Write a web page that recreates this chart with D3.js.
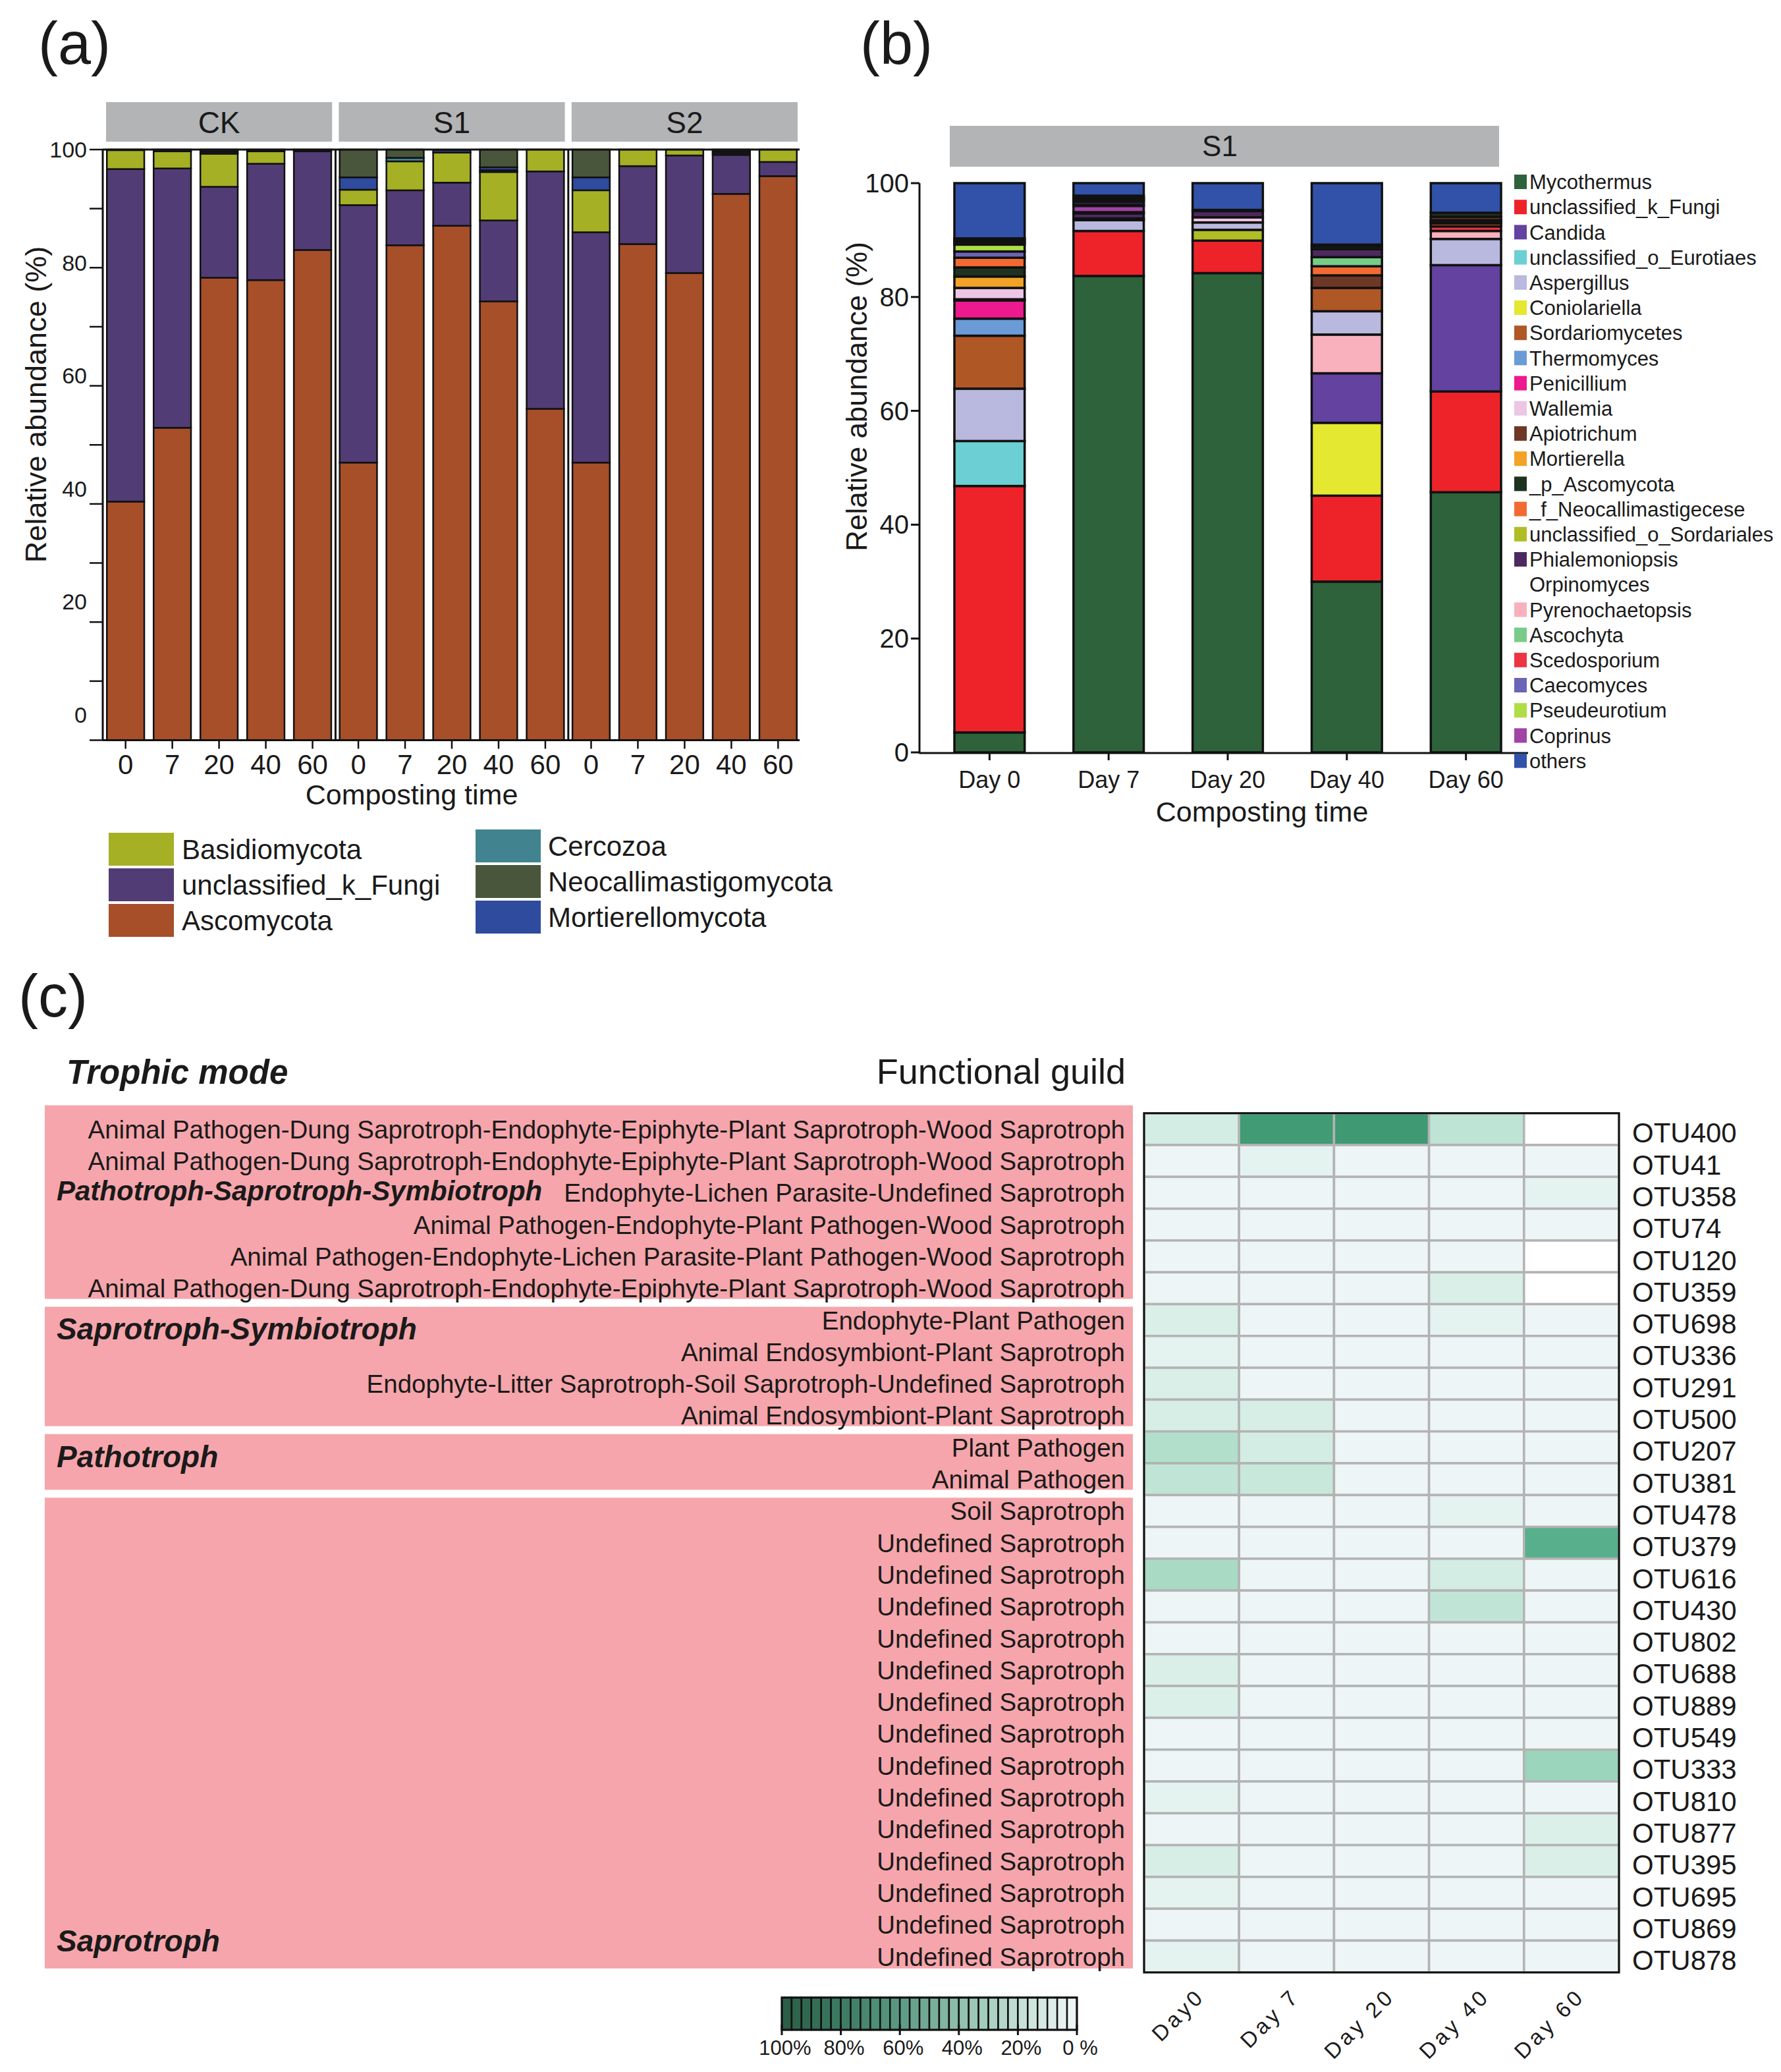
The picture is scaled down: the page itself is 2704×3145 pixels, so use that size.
<!DOCTYPE html>
<html>
<head>
<meta charset="utf-8">
<script src="https://cdn.jsdelivr.net/npm/d3@7"></script>
<style>
  body { margin: 0; background: #fff; }
  text { font-family: "Liberation Sans", Arial, Helvetica, sans-serif; fill: #1a1a1a; }
</style>
</head>
<body>
<svg id="fig" width="2704" height="3145"></svg>
<script>
'use strict'

// ---------- panel (a): phylum composition ----------
const groups = ['CK', 'S1', 'S2']
const days = ['0', '7', '20', '40', '60']
const phyla = ['Ascomycota', 'unclassified_k_Fungi', 'Basidiomycota', 'Cercozoa', 'Mortierellomycota', 'Neocallimastigomycota']
const phylaColors = ['#a64f29', '#523c75', '#a5b025', '#41848f', '#2f4b9e', '#4a563c']
// one value per sample: CK 0..60, S1 0..60, S2 0..60
const ascomycota = [40.4, 52.9, 78.3, 77.9, 83.0, 47.0, 83.8, 87.1, 74.3, 56.1, 47.0, 84.0, 79.1, 92.5, 95.5]
const unclassifiedFungi = [56.3, 43.9, 15.4, 19.7, 16.7, 43.6, 9.3, 7.3, 13.7, 40.2, 39.0, 13.2, 19.9, 6.6, 2.4]
const basidiomycota = [3.2, 2.9, 5.6, 2.1, 0.1, 2.6, 4.9, 5.1, 8.2, 3.7, 7.1, 2.8, 1.0, 0.3, 2.1]
const cercozoa = [0, 0, 0.1, 0, 0, 0, 0.6, 0, 0.3, 0, 0, 0, 0, 0, 0]
const mortierellomycota = [0, 0, 0.3, 0.1, 0, 2.1, 0, 0.4, 0.5, 0, 2.2, 0, 0, 0.3, 0]
const neocallimastigomycota = [0.1, 0.3, 0.3, 0.2, 0.2, 4.7, 1.4, 0, 3.0, 0, 4.7, 0, 0, 0.3, 0]
const legendAcol1 = ['Basidiomycota', 'unclassified_k_Fungi', 'Ascomycota']
const legendAcol2 = ['Cercozoa', 'Neocallimastigomycota', 'Mortierellomycota']

// ---------- panel (b): genus composition in S1 ----------
const dayLabels = ['Day 0', 'Day 7', 'Day 20', 'Day 40', 'Day 60']
const genera = ['Mycothermus', 'unclassified_k_Fungi', 'Candida', 'unclassified_o_Eurotiaes', 'Aspergillus',
  'Coniolariella', 'Sordariomycetes', 'Thermomyces', 'Penicillium', 'Wallemia', 'Apiotrichum', 'Mortierella',
  '_p_Ascomycota', '_f_Neocallimastigecese', 'unclassified_o_Sordariales', 'Phialemoniopsis', 'Orpinomyces',
  'Pyrenochaetopsis', 'Ascochyta', 'Scedosporium', 'Caecomyces', 'Pseudeurotium', 'Coprinus', 'others']
const generaColors = ['#2d623a', '#ee232a', '#6342a0', '#6ccfd3', '#b9b8de', '#e5e830', '#b05726', '#6a9bd6',
  '#ec1a8e', '#ecc6e4', '#6e3826', '#f3a227', '#1f3222', '#f26a32', '#b0bd24', '#4c2a5e', '#ffffff',
  '#f8b1bd', '#78cc88', '#ee3342', '#6a65b5', '#afdd47', '#a044a5', '#3152a8']
// bottom-up stacks, [genus, %]
const day0 = [['Mycothermus', 3.5], ['unclassified_k_Fungi', 43.3], ['unclassified_o_Eurotiaes', 7.9], ['Aspergillus', 9.2],
  ['Sordariomycetes', 9.3], ['Thermomyces', 3.0], ['Penicillium', 3.2], ['Coprinus', 0.2], ['Wallemia', 2.0],
  ['Mortierella', 2.0], ['_p_Ascomycota', 1.6], ['_f_Neocallimastigecese', 1.7], ['Caecomyces', 1.1],
  ['Pseudeurotium', 1.2], ['Ascochyta', 0.3], ['Phialemoniopsis', 0.3], ['unclassified_o_Sordariales', 0.3],
  ['Scedosporium', 0.2], ['others', 9.7]]
const day7 = [['Mycothermus', 83.7], ['unclassified_k_Fungi', 7.9], ['Aspergillus', 1.9], ['_p_Ascomycota', 0.3],
  ['Phialemoniopsis', 0.9], ['Thermomyces', 0.2], ['Coprinus', 1.1], ['Wallemia', 0.2], ['Candida', 0.5],
  ['Sordariomycetes', 0.2], ['Coniolariella', 0.2], ['Mortierella', 0.2], ['unclassified_o_Sordariales', 0.2],
  ['Apiotrichum', 0.3], ['others', 2.2]]
const day20 = [['Mycothermus', 84.2], ['unclassified_k_Fungi', 5.7], ['unclassified_o_Sordariales', 1.9],
  ['Aspergillus', 1.3], ['Wallemia', 0.9], ['Phialemoniopsis', 1.1], ['_p_Ascomycota', 0.2], ['others', 4.7]]
const day40 = [['Mycothermus', 30.0], ['unclassified_k_Fungi', 15.1], ['Coniolariella', 12.8], ['Candida', 8.7],
  ['Pyrenochaetopsis', 6.8], ['Aspergillus', 4.1], ['Sordariomycetes', 4.1], ['Apiotrichum', 2.2],
  ['_f_Neocallimastigecese', 1.6], ['Ascochyta', 1.6], ['Phialemoniopsis', 1.4], ['_p_Ascomycota', 0.5],
  ['Caecomyces', 0.3], ['others', 10.8]]
const day60 = [['Mycothermus', 45.7], ['unclassified_k_Fungi', 17.7], ['Candida', 22.2], ['Aspergillus', 4.6],
  ['Pyrenochaetopsis', 1.4], ['Scedosporium', 0.8], ['_f_Neocallimastigecese', 0.5], ['Coprinus', 0.3],
  ['Phialemoniopsis', 0.3], ['Apiotrichum', 0.6], ['_p_Ascomycota', 0.7], ['others', 5.2]]
const dayStacks = [day0, day7, day20, day40, day60]

// ---------- panel (c): FUNGuild heatmap ----------
const otus = ['OTU400', 'OTU41', 'OTU358', 'OTU74', 'OTU120', 'OTU359', 'OTU698', 'OTU336', 'OTU291', 'OTU500',
  'OTU207', 'OTU381', 'OTU478', 'OTU379', 'OTU616', 'OTU430', 'OTU802', 'OTU688', 'OTU889', 'OTU549',
  'OTU333', 'OTU810', 'OTU877', 'OTU395', 'OTU695', 'OTU869', 'OTU878']
const guildA = 'Animal Pathogen-Dung Saprotroph-Endophyte-Epiphyte-Plant Saprotroph-Wood Saprotroph'
const guildU = 'Undefined Saprotroph'
const guilds = [guildA, guildA, 'Endophyte-Lichen Parasite-Undefined Saprotroph',
  'Animal Pathogen-Endophyte-Plant Pathogen-Wood Saprotroph',
  'Animal Pathogen-Endophyte-Lichen Parasite-Plant Pathogen-Wood Saprotroph', guildA,
  'Endophyte-Plant Pathogen', 'Animal Endosymbiont-Plant Saprotroph',
  'Endophyte-Litter Saprotroph-Soil Saprotroph-Undefined Saprotroph', 'Animal Endosymbiont-Plant Saprotroph',
  'Plant Pathogen', 'Animal Pathogen', 'Soil Saprotroph',
  guildU, guildU, guildU, guildU, guildU, guildU, guildU, guildU, guildU, guildU, guildU, guildU, guildU, guildU]
const trophicModes = ['Pathotroph-Saprotroph-Symbiotroph', 'Saprotroph-Symbiotroph', 'Pathotroph', 'Saprotroph']
const trophicRowCounts = [6, 4, 2, 15]
const heatDays = ['Day0', 'Day 7', 'Day 20', 'Day 40', 'Day 60']
// relative abundance (%) per OTU, null = no value (white)
const heatDay0 = [10, 1, 1, 1, 1, 1, 8, 4, 8, 9, 21, 16, 1, 1, 24, 1, 1, 8, 7, 1, 1, 4, 1, 9, 4, 1, 4]
const heatDay7 = [75, 4, 1, 1, 1, 1, 1, 1, 1, 9, 10, 14, 1, 1, 1, 1, 1, 1, 1, 1, 1, 1, 1, 1, 1, 1, 1]
const heatDay20 = [77, 1, 1, 1, 1, 1, 1, 1, 1, 1, 1, 1, 1, 1, 1, 1, 1, 1, 1, 1, 1, 1, 1, 1, 1, 1, 1]
const heatDay40 = [17, 1, 1, 1, 1, 8, 4, 1, 1, 1, 1, 1, 4, 1, 10, 16, 1, 1, 1, 1, 1, 1, 1, 1, 1, 1, 1]
const heatDay60 = [null, 1, 4, 1, null, null, 1, 1, 1, 1, 1, 1, 1, 55, 1, 1, 1, 1, 1, 1, 28, 1, 7, 8, 1, 1, 1]
const heatValues = [heatDay0, heatDay7, heatDay20, heatDay40, heatDay60]
const colorbarTicks = [100, 80, 60, 40, 20, 0]
const colorbarTickLabels = ['100%', '80%', '60%', '40%', '20%', '0 %']

const svg = d3.select('#fig')
svg.append('rect').attr('width', 2704).attr('height', 3145).attr('fill', '#fff')

function panelLabel(txt, x, y) {
  svg.append('text').attr('x', x).attr('y', y).attr('font-size', 90).text(txt)
}

// ================= (a) =================
panelLabel('(a)', 58, 97)

const yA = d3.scaleLinear().domain([0, 100]).range([1123.5, 227])
// tick labels in the original drift upward a little
const yALab = d3.scaleLinear().domain([0, 100]).range([1085, 227])
const gx = d3.scaleBand().domain(groups).range([158, 1214]).paddingInner(0.012)
const bx = d3.scaleBand().domain(days).range([0, gx.bandwidth()]).paddingInner(0.2).paddingOuter(0.06)
const colorA = d3.scaleOrdinal().domain(phyla).range(phylaColors)

const samples = []
groups.forEach((g, gi) => {
  days.forEach((d, di) => {
    const i = gi * 5 + di
    samples.push({
      group: g, day: d,
      Ascomycota: ascomycota[i],
      unclassified_k_Fungi: unclassifiedFungi[i],
      Basidiomycota: basidiomycota[i],
      Cercozoa: cercozoa[i],
      Mortierellomycota: mortierellomycota[i],
      Neocallimastigomycota: neocallimastigomycota[i]
    })
  })
})
const stackA = d3.stack().keys(phyla)(samples)

const ga = svg.append('g')
groups.forEach(g => {
  ga.append('rect').attr('x', gx(g) + 3).attr('y', 155).attr('width', gx.bandwidth() - 6).attr('height', 60)
    .attr('fill', '#b3b4b6')
  ga.append('text').attr('x', gx(g) + gx.bandwidth() / 2).attr('y', 202).attr('text-anchor', 'middle')
    .attr('font-size', 46).text(g)
})

stackA.forEach(layer => {
  ga.append('g').selectAll('rect')
    .data(layer.filter(d => d[1] - d[0] > 0))
    .join('rect')
    .attr('x', d => gx(d.data.group) + bx(d.data.day))
    .attr('y', d => yA(d[1]))
    .attr('width', bx.bandwidth())
    .attr('height', d => yA(d[0]) - yA(d[1]))
    .attr('fill', colorA(layer.key))
    .attr('stroke', '#111').attr('stroke-width', 2.5)
})

// axes of (a)
ga.append('line').attr('x1', 156).attr('x2', 156).attr('y1', yA(100)).attr('y2', yA(0)).attr('stroke', '#111').attr('stroke-width', 3)
ga.append('line').attr('x1', 156).attr('x2', 1214).attr('y1', yA(100)).attr('y2', yA(100)).attr('stroke', '#111').attr('stroke-width', 3)
ga.append('line').attr('x1', 156).attr('x2', 1214).attr('y1', yA(0)).attr('y2', yA(0)).attr('stroke', '#111').attr('stroke-width', 3)
;['S1', 'S2'].forEach(g => {
  ga.append('line').attr('x1', gx(g) - 2).attr('x2', gx(g) - 2).attr('y1', yA(100)).attr('y2', yA(0))
    .attr('stroke', '#111').attr('stroke-width', 3)
})
d3.range(0, 101, 10).forEach(v => {
  ga.append('line').attr('x1', 136).attr('x2', 156).attr('y1', yA(v)).attr('y2', yA(v)).attr('stroke', '#111').attr('stroke-width', 2.5)
})
d3.range(0, 101, 20).forEach(v => {
  ga.append('text').attr('x', 132).attr('y', yALab(v)).attr('dy', '0.35em').attr('text-anchor', 'end')
    .attr('font-size', 34).attr('fill', '#222').text(v)
})
samples.forEach(s => {
  const cx = gx(s.group) + bx(s.day) + bx.bandwidth() / 2
  ga.append('line').attr('x1', cx).attr('x2', cx).attr('y1', yA(0)).attr('y2', yA(0) + 13).attr('stroke', '#111').attr('stroke-width', 2.5)
  ga.append('text').attr('x', cx).attr('y', 1175).attr('text-anchor', 'middle').attr('font-size', 42).text(s.day)
})
ga.append('text').attr('x', 625).attr('y', 1221).attr('text-anchor', 'middle').attr('font-size', 43)
  .attr('fill', '#333').text('Composting time')
ga.append('text').attr('transform', 'translate(70,614) rotate(-90)').attr('text-anchor', 'middle')
  .attr('font-size', 45).attr('fill', '#333').text('Relative abundance (%)')

// legend of (a)
const legA = svg.append('g')
legendAcol1.forEach((name, i) => {
  legA.append('rect').attr('x', 165).attr('y', 1264 + i * 54).attr('width', 99).attr('height', 50).attr('fill', colorA(name))
  legA.append('text').attr('x', 276).attr('y', 1289 + i * 54).attr('dy', '0.35em').attr('font-size', 42).text(name)
})
legendAcol2.forEach((name, i) => {
  legA.append('rect').attr('x', 722).attr('y', 1259 + i * 54).attr('width', 99).attr('height', 50).attr('fill', colorA(name))
  legA.append('text').attr('x', 832).attr('y', 1284 + i * 54).attr('dy', '0.35em').attr('font-size', 42).text(name)
})

// ================= (b) =================
panelLabel('(b)', 1306, 97)

const yB = d3.scaleLinear().domain([0, 100]).range([1142, 278])
const xB = d3.scaleBand().domain(dayLabels).range([1449, 2279]).paddingInner(0.41)
const colorB = d3.scaleOrdinal().domain(genera).range(generaColors)

const gb = svg.append('g')
gb.append('rect').attr('x', 1442).attr('y', 191).attr('width', 834).attr('height', 62).attr('fill', '#b3b4b6')
gb.append('text').attr('x', 1852).attr('y', 237).attr('text-anchor', 'middle').attr('font-size', 44).text('S1')

dayStacks.forEach((stack, di) => {
  const tops = d3.cumsum(stack, d => d[1])
  const segs = stack.map((d, i) => ({ genus: d[0], y0: tops[i] - d[1], y1: tops[i] }))
  gb.append('g').selectAll('rect')
    .data(segs)
    .join('rect')
    .attr('x', xB(dayLabels[di]))
    .attr('y', d => yB(d.y1))
    .attr('width', xB.bandwidth())
    .attr('height', d => yB(d.y0) - yB(d.y1))
    .attr('fill', d => colorB(d.genus))
    .attr('stroke', '#111').attr('stroke-width', 3.5)
})

gb.append('line').attr('x1', 1396).attr('x2', 1396).attr('y1', yB(100)).attr('y2', yB(0) + 2).attr('stroke', '#111').attr('stroke-width', 3)
gb.append('line').attr('x1', 1396).attr('x2', 2320).attr('y1', yB(0) + 1).attr('y2', yB(0) + 1).attr('stroke', '#111').attr('stroke-width', 3)
d3.range(0, 101, 20).forEach(v => {
  gb.append('line').attr('x1', 1383).attr('x2', 1396).attr('y1', yB(v)).attr('y2', yB(v)).attr('stroke', '#111').attr('stroke-width', 3)
  gb.append('text').attr('x', 1380).attr('y', yB(v)).attr('dy', '0.35em').attr('text-anchor', 'end')
    .attr('font-size', 40).attr('fill', '#222').text(v)
})
dayLabels.forEach(d => {
  const cx = xB(d) + xB.bandwidth() / 2
  gb.append('line').attr('x1', cx).attr('x2', cx).attr('y1', yB(0)).attr('y2', yB(0) + 12).attr('stroke', '#111').attr('stroke-width', 3)
  gb.append('text').attr('x', cx).attr('y', 1196).attr('text-anchor', 'middle').attr('font-size', 36).attr('fill', '#222').text(d)
})
gb.append('text').attr('x', 1916).attr('y', 1247).attr('text-anchor', 'middle').attr('font-size', 43)
  .attr('fill', '#333').text('Composting time')
gb.append('text').attr('transform', 'translate(1316,602) rotate(-90)').attr('text-anchor', 'middle')
  .attr('font-size', 44).attr('fill', '#333').text('Relative abundance (%)')

const legB = svg.append('g')
genera.forEach((name, i) => {
  const cy = 276 + i * 38.2
  if (name !== 'Orpinomyces') {
    legB.append('rect').attr('x', 2299).attr('y', cy - 11).attr('width', 19).attr('height', 22).attr('fill', colorB(name))
  }
  legB.append('text').attr('x', 2322).attr('y', cy).attr('dy', '0.36em').attr('font-size', 31).text(name)
})

// ================= (c) =================
panelLabel('(c)', 28, 1543)

const heatLeft = 1737, heatRight = 2458, heatTop = 1689.7, heatBottom = 2993.8
const xH = d3.scaleBand().domain(heatDays).range([heatLeft, heatRight])
const yH = d3.scaleBand().domain(otus).range([heatTop, heatBottom])
const colorH = d3.scaleLinear().domain([0, 10, 20, 35, 55, 80])
  .range(['#f0f6f8', '#d3ede4', '#b4e0cd', '#86cbad', '#57b08b', '#3c9670'])
const colorBar = d3.scaleLinear().domain([0, 20, 40, 60, 80, 100])
  .range(['#f0f6f8', '#c2dfd5', '#8fbfab', '#5c9a85', '#3b7a61', '#2a5c44'])

const gc = svg.append('g')
gc.append('text').attr('x', 101).attr('y', 1645).attr('font-size', 51).attr('font-weight', 'bold')
  .attr('font-style', 'italic').text('Trophic mode')
gc.append('text').attr('x', 1709).attr('y', 1645).attr('text-anchor', 'end').attr('font-size', 54)
  .attr('fill', '#333').text('Functional guild')

// pink trophic-mode bands
const bandStarts = d3.cumsum([0].concat(trophicRowCounts.slice(0, -1)))
const labelRowPos = [2.43, 6.78, 10.8, 26.0]
trophicModes.forEach((mode, i) => {
  const first = otus[bandStarts[i]]
  const last = otus[bandStarts[i] + trophicRowCounts[i] - 1]
  const top = i === 0 ? yH(first) - 12 : yH(first) + 4
  const bottom = yH(last) + yH.bandwidth() - (i === trophicModes.length - 1 ? 6 : 8)
  gc.append('rect').attr('x', 68).attr('y', top).attr('width', 1652).attr('height', bottom - top).attr('fill', '#f5a5ab')
  gc.append('text').attr('x', 86).attr('y', heatTop + labelRowPos[i] * yH.bandwidth())
    .attr('dy', '0.35em').attr('font-size', i === 0 ? 42 : 46).attr('font-weight', 'bold').attr('font-style', 'italic')
    .text(mode)
})

guilds.forEach((g, i) => {
  gc.append('text').attr('x', 1708).attr('y', yH(otus[i]) + yH.bandwidth() / 2).attr('dy', '0.36em')
    .attr('text-anchor', 'end').attr('font-size', 38.5).text(g)
})

// heat cells
const cells = []
heatDays.forEach((d, di) => otus.forEach((o, oi) => cells.push({ day: d, otu: o, v: heatValues[di][oi] })))
gc.append('g').selectAll('rect')
  .data(cells)
  .join('rect')
  .attr('x', d => xH(d.day))
  .attr('y', d => yH(d.otu))
  .attr('width', xH.bandwidth())
  .attr('height', yH.bandwidth())
  .attr('fill', d => d.v === null ? '#ffffff' : colorH(d.v))
  .attr('stroke', '#b3b3b3').attr('stroke-width', 3.5)
gc.append('rect').attr('x', heatLeft).attr('y', heatTop).attr('width', heatRight - heatLeft)
  .attr('height', heatBottom - heatTop).attr('fill', 'none').attr('stroke', '#111').attr('stroke-width', 3)

otus.forEach(o => {
  gc.append('text').attr('x', 2478).attr('y', yH(o) + yH.bandwidth() / 2 + 5).attr('dy', '0.37em')
    .attr('font-size', 42).text(o)
})
heatDays.forEach(d => {
  const cx = xH(d) + xH.bandwidth() / 2
  gc.append('text').attr('transform', `translate(${cx + 22},${3032}) rotate(-45)`).attr('text-anchor', 'end')
    .attr('font-size', 33).attr('letter-spacing', 5).text(d)
})

// colour bar
const xC = d3.scaleLinear().domain([100, 0]).range([1187, 1635])
const nSeg = 30
const segW = (xC(0) - xC(100)) / nSeg
const segVals = d3.range(nSeg).map(i => 100 - (i + 0.5) * 100 / nSeg)
gc.append('g').selectAll('rect')
  .data(segVals)
  .join('rect')
  .attr('x', v => xC(v) - segW / 2)
  .attr('y', 3032)
  .attr('width', segW)
  .attr('height', 49)
  .attr('fill', v => colorBar(v))
  .attr('stroke', '#111').attr('stroke-width', 2.5)
gc.append('rect').attr('x', xC(100)).attr('y', 3032).attr('width', xC(0) - xC(100)).attr('height', 49)
  .attr('fill', 'none').attr('stroke', '#111').attr('stroke-width', 3)
colorbarTicks.forEach((t, i) => {
  gc.append('line').attr('x1', xC(t)).attr('x2', xC(t)).attr('y1', 3073).attr('y2', 3089).attr('stroke', '#111').attr('stroke-width', 3)
  gc.append('text').attr('x', xC(t) + 5).attr('y', 3119).attr('text-anchor', 'middle').attr('font-size', 31)
    .text(colorbarTickLabels[i])
})
</script>
</body>
</html>
